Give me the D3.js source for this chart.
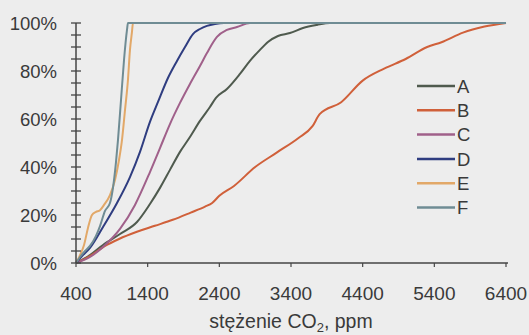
<!DOCTYPE html>
<html><head><meta charset="utf-8">
<script src="https://cdn.jsdelivr.net/npm/d3@7"></script>
<style>
html,body{margin:0;padding:0;background:#ededed;}
svg{display:block;font-family:Arial,"Liberation Sans",sans-serif;}
</style></head>
<body>
<svg id="chart" width="529" height="335"></svg>
<script>
// ---- data ----
const seriesNames = ["A","B","C","D","E","F"];
const seriesColors = ["#4f5a4e","#d0603a","#a0608a","#2f3d80","#e2a868","#6f8c94"];
const ppmA = [400,595,777,1014,1251,1432,1572,1711,1851,1990,2130,2269,2353,2506,2688,2827,2967,3078,3218,3385,3567,3762,3943,6400];
const valA = [0,3.3,7.5,12.1,17.1,24.6,31.3,38.8,46.3,52.5,59.2,65,68.8,72.5,78.8,84.2,88.8,92.1,94.6,95.8,97.9,99.2,100,100];
const ppmB = [400,600,800,1000,1250,1500,1750,2000,2200,2300,2400,2600,2900,3200,3500,3700,3800,4100,4400,4700,5000,5300,5500,5800,6100,6400];
const valB = [0,3,7,10,13,15.5,18,21,23.5,25,28,32,40,46,52,57,62,67,76,81,85,90,92,96,98.5,100];
const ppmC = [400,595,777,1014,1223,1432,1572,1711,1851,1990,2130,2227,2367,2506,2646,2827,6400];
const valC = [0,2.5,6.7,14.2,24.2,37.9,47.9,57.9,66.7,74.6,82.1,87.5,94.2,97.1,98.3,100,100];
const ppmD = [400,484,595,777,972,1153,1293,1432,1544,1683,1809,1921,2032,2130,2227,2339,2465,6400];
const valD = [0,2.9,6.3,15,25,35.8,46.3,58.8,67.1,77.1,84.2,90,95.4,97.5,98.8,99.6,100,100];
const ppmE = [400,456,512,567,623,679,735,791,874,944,1000,1042,1084,1125,1153,1181,1195,6400];
const valE = [0,3.3,7.5,14.6,20,21.3,22,24.2,28.3,34.6,42.9,51.3,63.8,76.3,88.8,96.3,100,100];
const ppmF = [400,456,526,595,679,735,805,874,916,958,986,1028,1070,1111,1125,6400];
const valF = [0,2.5,5,7.1,11.3,15.4,21.7,25,31.3,42,51.3,67.9,84.6,97,100,100];
const xTickValues = [400,1400,2400,3400,4400,5400,6400];
const yTickValues = [0,20,40,60,80,100];
const yMinorStep = 5;
const xTitle = "stężenie CO";
const xTitleSub = "2";
const xTitleTail = ", ppm";

const allPpm = [ppmA,ppmB,ppmC,ppmD,ppmE,ppmF];
const allVal = [valA,valB,valC,valD,valE,valF];

// ---- layout ----
const svg = d3.select("#chart");
const x = d3.scaleLinear().domain([400,6400]).range([76,506]);
const y = d3.scaleLinear().domain([0,100]).range([263,23]);
const axisColor = "#454545";
const textColor = "#3a3a3a";

// lines
const line = d3.line().x(d=>x(d[0])).y(d=>y(d[1])).curve(d3.curveMonotoneX);
seriesNames.forEach((n,i)=>{
  const pts = allPpm[i].map((p,j)=>[p, allVal[i][j]]);
  svg.append("path").datum(pts)
    .attr("d", line).attr("fill","none")
    .attr("stroke", seriesColors[i]).attr("stroke-width",2)
    .attr("stroke-linejoin","round");
});

// y axis
svg.append("line").attr("x1",x(400)).attr("x2",x(400)).attr("y1",y(0)).attr("y2",y(100))
  .attr("stroke",axisColor).attr("stroke-width",1.5);
const minorTicks = d3.range(0,100+0.001,yMinorStep);
svg.selectAll(".ytick").data(minorTicks).enter().append("line")
  .attr("x1",x(400)-5).attr("x2",x(400)+5)
  .attr("y1",d=>y(d)).attr("y2",d=>y(d))
  .attr("stroke",axisColor).attr("stroke-width",1.3);
svg.selectAll(".ylab").data(yTickValues).enter().append("text")
  .attr("x",57).attr("y",d=>y(d)).attr("dy","0.36em")
  .attr("text-anchor","end").attr("font-size",18.5).attr("fill",textColor)
  .text(d=>d+"%");

// x axis
svg.append("line").attr("x1",x(400)).attr("x2",x(6400)+2).attr("y1",y(0)).attr("y2",y(0))
  .attr("stroke",axisColor).attr("stroke-width",1.5);
svg.selectAll(".xtick").data(xTickValues).enter().append("line")
  .attr("x1",d=>x(d)).attr("x2",d=>x(d)).attr("y1",y(0)).attr("y2",y(0)+4)
  .attr("stroke",axisColor).attr("stroke-width",1.2);
svg.selectAll(".xlab").data(xTickValues).enter().append("text")
  .attr("x",d=>x(d)).attr("y",300)
  .attr("text-anchor","middle").attr("font-size",19).attr("fill",textColor)
  .text(d=>d);

// axis title
const t = svg.append("text").attr("x",291).attr("y",328).attr("text-anchor","middle")
  .attr("font-size",19.5).attr("fill",textColor);
t.append("tspan").text(xTitle);
t.append("tspan").attr("font-size",13).attr("dy",4).text(xTitleSub);
t.append("tspan").attr("dy",-4).text(xTitleTail);

// legend
seriesNames.forEach((n,i)=>{
  const ly = 86 + i*24.3;
  svg.append("line").attr("x1",417).attr("x2",455).attr("y1",ly).attr("y2",ly)
    .attr("stroke",seriesColors[i]).attr("stroke-width",2.5);
  svg.append("text").attr("x",457).attr("y",ly).attr("dy","0.36em")
    .attr("font-size",18.5).attr("fill",textColor).text(n);
});
</script>
</body></html>
